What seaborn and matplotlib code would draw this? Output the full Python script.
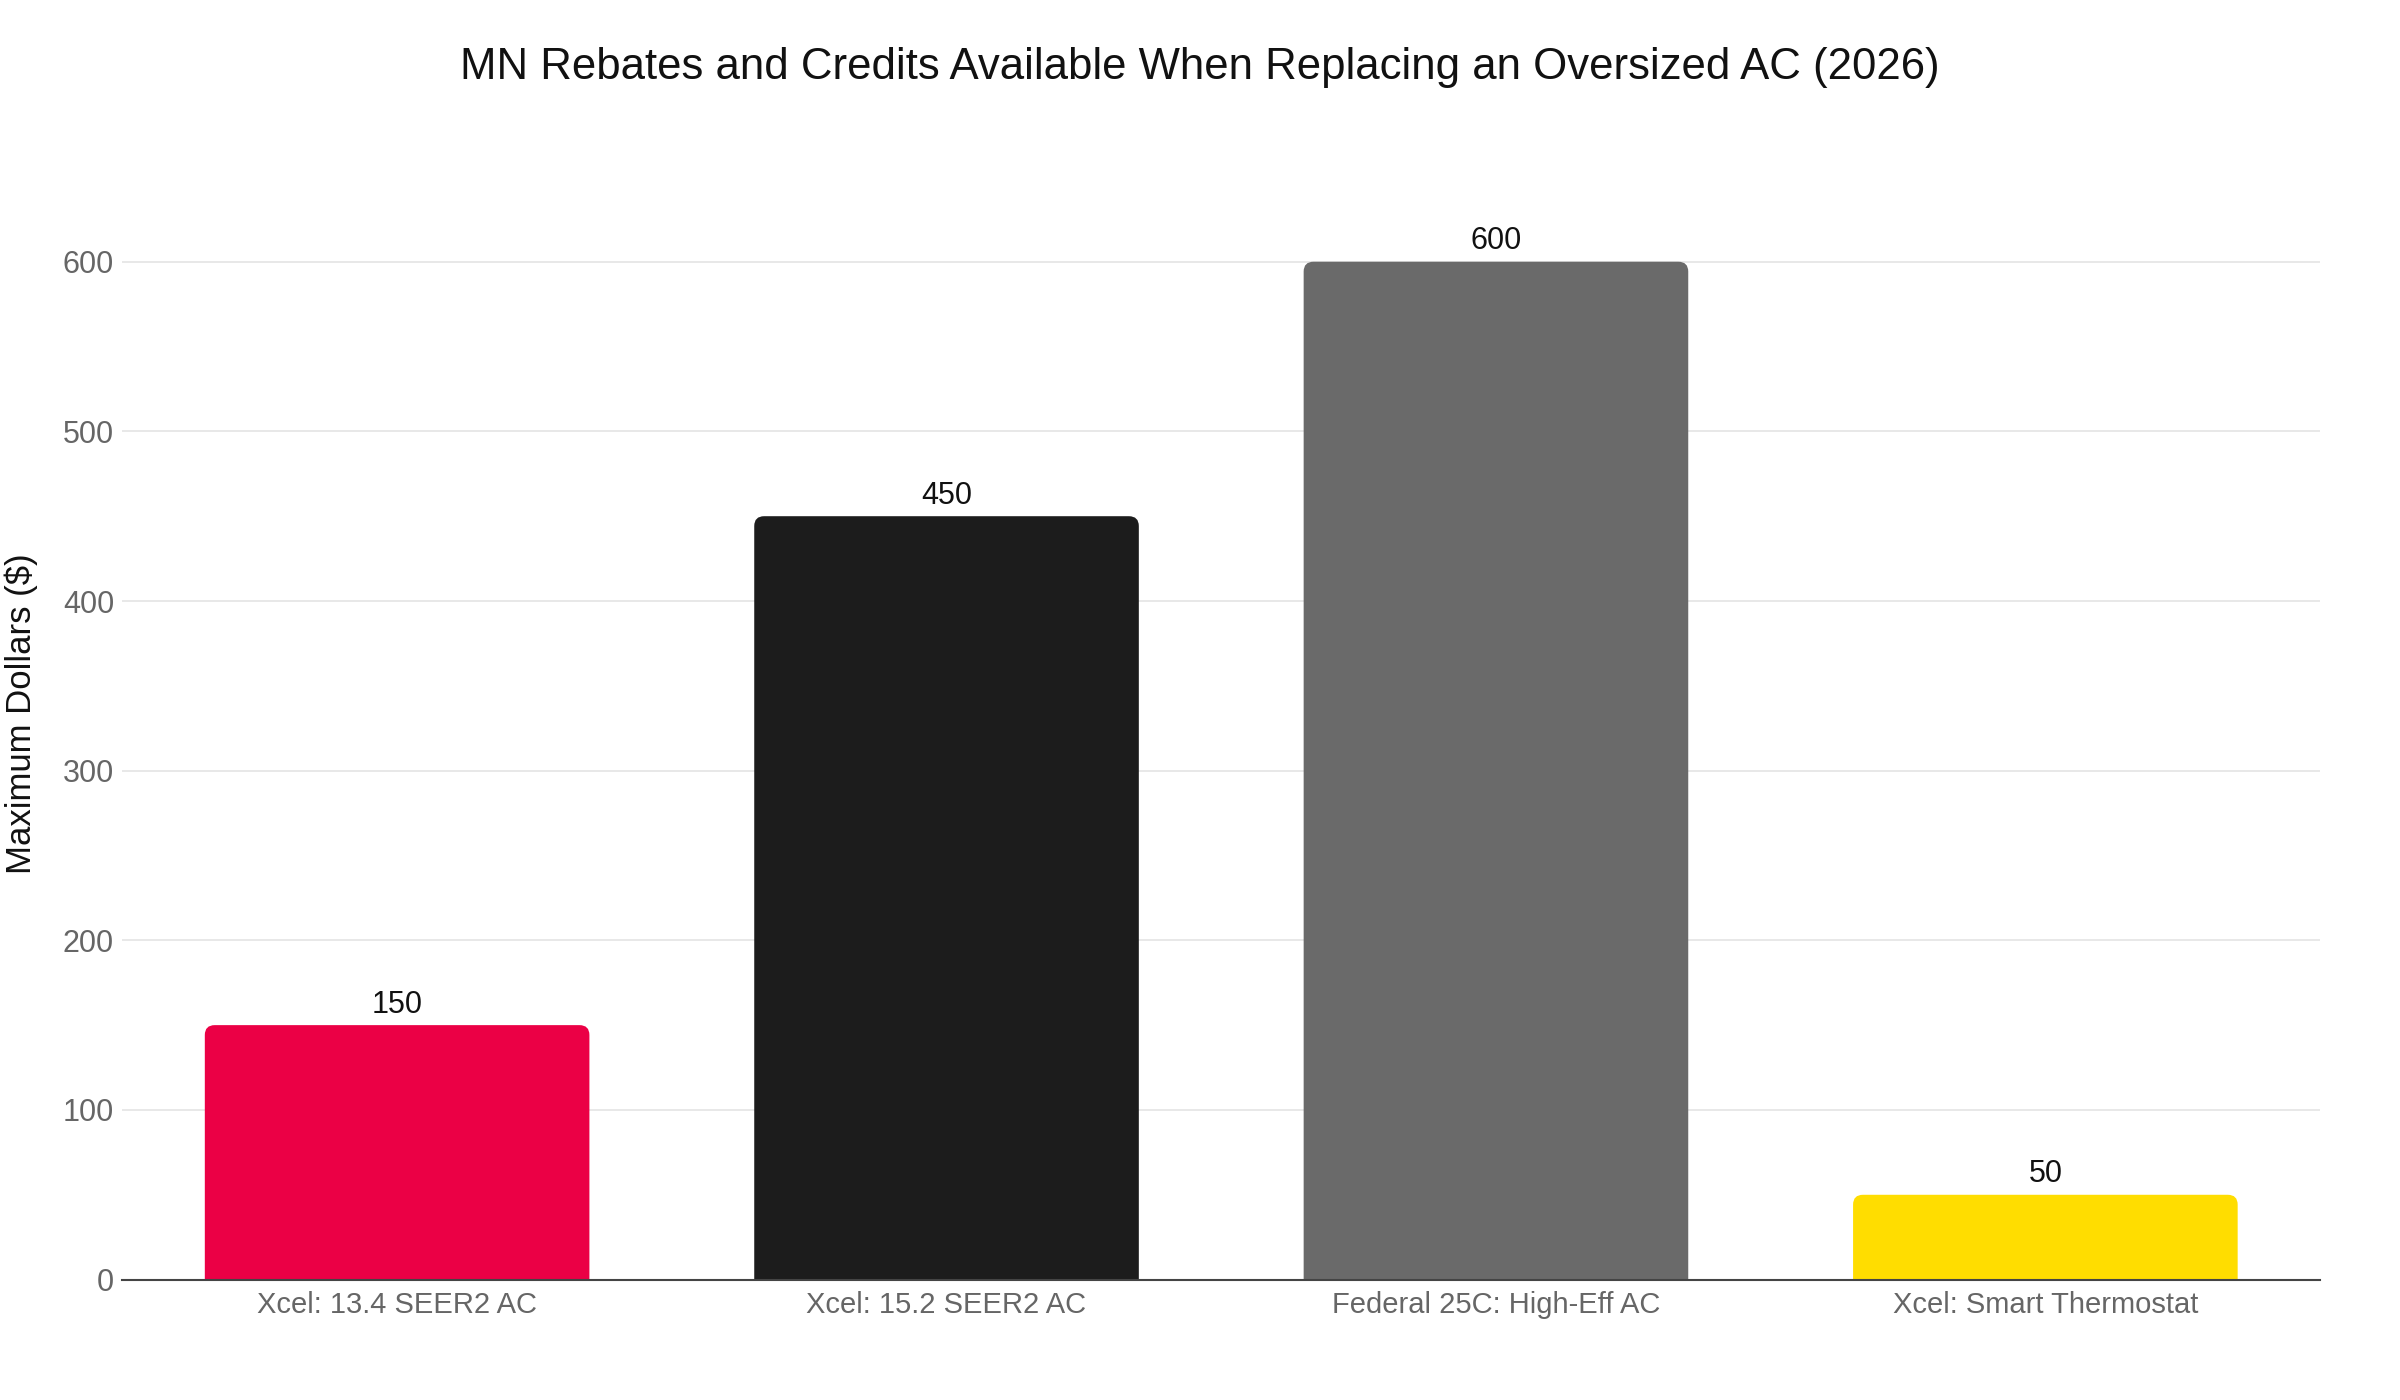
import matplotlib
matplotlib.use("Agg")
import matplotlib.pyplot as plt
from matplotlib.patches import FancyBboxPatch
import seaborn as sns
import pandas as pd

# Chart data
categories = ["Xcel: 13.4 SEER2 AC", "Xcel: 15.2 SEER2 AC",
              "Federal 25C: High-Eff AC", "Xcel: Smart Thermostat"]
values = [150, 450, 600, 50]
bar_colors = ["#EB0045", "#1C1C1C", "#6A6A6A", "#FFDD00"]
y_ticks = [0, 100, 200, 300, 400, 500, 600]

df = pd.DataFrame({"program": categories, "dollars": values})

sns.set_theme(style="white")
plt.rcParams["font.family"] = ["Liberation Sans", "DejaVu Sans"]

fig = plt.figure(figsize=(24, 14), dpi=100)
ax = fig.add_axes([0.051, 0.086, 0.9157, 0.7634])

sns.barplot(data=df, x="program", y="dollars", hue="program",
            palette=bar_colors, saturation=1, width=0.7, legend=False, ax=ax)

ax.set_xlim(-0.5, 3.5)
ax.set_ylim(0, 630)

# swap plain bars for rounded ones (bottom corners hidden below y=0)
r_x = 0.018
r_y = 5.8
for patch in list(ax.patches):
    x0, w, h = patch.get_x(), patch.get_width(), patch.get_height()
    fc = patch.get_facecolor()
    patch.remove()
    ax.add_patch(FancyBboxPatch((x0, -r_y * 2), w, h + r_y * 2,
                                boxstyle=f"round,pad=0,rounding_size={r_x}",
                                mutation_aspect=r_y / r_x,
                                facecolor=fc, edgecolor="none", zorder=2))

for i, v in enumerate(values):
    ax.annotate(str(v), (i, v), xytext=(0, 4), textcoords="offset points",
                ha="center", va="bottom", fontsize=22, color="#111111")

ax.set_yticks(y_ticks)
ax.yaxis.grid(True, color="#E6E6E6", linewidth=1.3, zorder=0)
ax.set_axisbelow(True)
for s in ["top", "right", "left"]:
    ax.spines[s].set_visible(False)
ax.spines["bottom"].set_color("#444444")
ax.spines["bottom"].set_linewidth(1.5)
ax.spines["bottom"].set_zorder(3)

ax.tick_params(axis="both", length=0, labelsize=21, labelcolor="#666666")
ax.tick_params(axis="x", pad=8)
ax.tick_params(axis="y", pad=6, labelsize=22)

ax.set_xlabel("")
ax.set_ylabel("")
fig.text(0.009, 0.49, "Maximum Dollars ($)", rotation=90, ha="center", va="center",
         fontsize=25, color="#111111")

fig.text(0.5, 0.952, "MN Rebates and Credits Available When Replacing an Oversized AC (2026)",
         ha="center", va="center", fontsize=31.5, color="#111111")

fig.savefig("out.png", dpi=100)
